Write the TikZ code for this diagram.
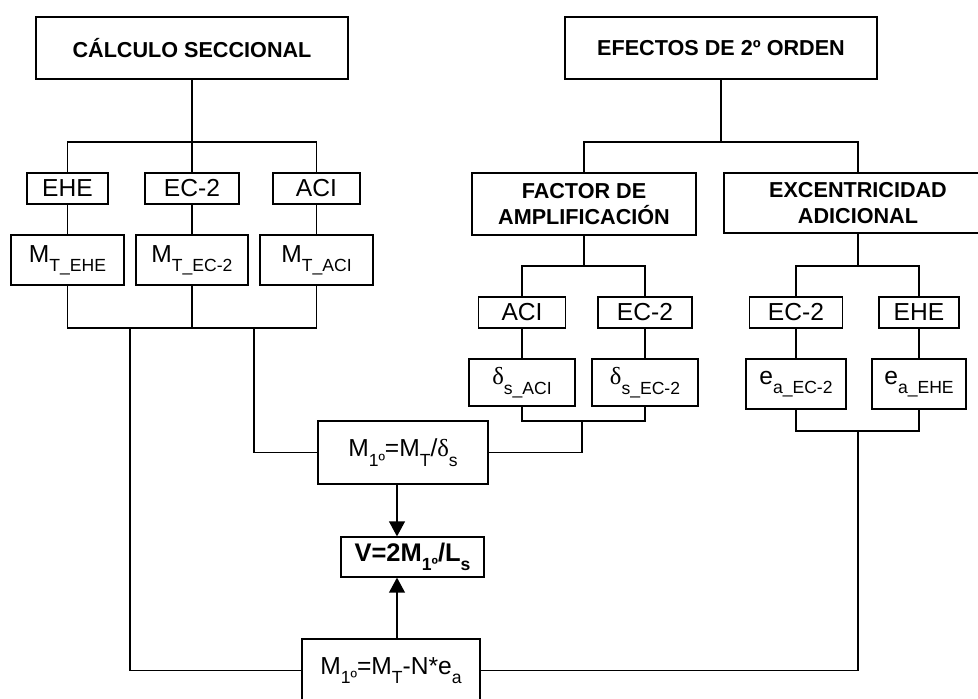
\documentclass[tikz,border=0pt]{standalone}
\usepackage{fontspec}
\setmainfont{Liberation Sans}
\newfontfamily\greekfont{Liberation Serif}
\usetikzlibrary{arrows.meta, positioning, calc}

% lowered subscript in the text font
\newcommand{\low}[1]{\raisebox{-0.38em}{\fontsize{10}{12}\selectfont #1}}
\newcommand{\dlt}{{\greekfont δ}}

\begin{document}
\begin{tikzpicture}[x=0.02cm, y=-0.02cm, line width=0.7pt,
    block/.style={draw, inner sep=0pt, minimum height=0.62cm, font=\fontsize{14}{16}\selectfont},
    head/.style={draw, inner sep=0pt, align=center, minimum height=1.24cm, font=\bfseries\fontsize{12.3}{15.3}\selectfont},
    arrow/.style={-{Triangle[length=8.5pt, width=9pt]}}
]
    \useasboundingbox (0,0) rectangle (978,698);

    % Headings
    \node[head, minimum width=6.24cm] (calc) at (192,48) {CÁLCULO SECCIONAL};
    \node[head, minimum width=6.24cm] (efec) at (721,48) {EFECTOS DE 2º ORDEN};

    % Sectional codes
    \node[block, minimum width=1.62cm] (ehe1) at (67.5,188.5) {EHE};
    \node[block, minimum width=1.88cm] (ec1) at (192,188.5) {EC-2};
    \node[block, minimum width=1.74cm] (aci1) at (316.5,188.5) {ACI};

    \node[block, minimum width=2.26cm, minimum height=1cm] (mehe) at (67.5,260) {M\low{T\_EHE}};
    \node[block, minimum width=2.24cm, minimum height=1cm] (mec) at (192,260) {M\low{T\_EC-2}};
    \node[block, minimum width=2.26cm, minimum height=1cm] (maci) at (316.5,260) {M\low{T\_ACI}};

    % Second order branches
    \node[head, minimum width=4.48cm] (factor) at (584,204) {FACTOR DE\\AMPLIFICACIÓN};
    \node[head, minimum width=5.36cm, minimum height=1.2cm] (excen) at (858,203) {EXCENTRICIDAD\\ADICIONAL};

    \node[block, minimum width=1.74cm] (aci2) at (522,312.5) {ACI};
    \node[block, minimum width=1.88cm] (ec2a) at (645,312.5) {EC-2};
    \node[block, minimum width=1.86cm] (ec2b) at (796,312.5) {EC-2};
    \node[block, minimum width=1.6cm] (ehe2) at (919,312.5) {EHE};

    \node[block, minimum width=2.12cm, minimum height=0.94cm] (dsaci) at (522,382.5) {\dlt\low{s\_ACI}};
    \node[block, minimum width=2.12cm, minimum height=0.94cm] (dsec) at (645,382.5) {\dlt\low{s\_EC-2}};
    \node[block, minimum width=2cm, minimum height=1cm] (eaec) at (796,384) {e\low{a\_EC-2}};
    \node[block, minimum width=1.88cm, minimum height=1cm] (eaehe) at (919,384) {e\low{a\_EHE}};

    % Results
    \node[block, minimum width=3.4cm, minimum height=1.26cm] (mds) at (403,452.5) {M\low{1º}=M\low{T}/\dlt\low{s}};
    \node[block, minimum width=2.86cm, minimum height=0.8cm, font=\bfseries\fontsize{14.5}{16}\selectfont] (vbox) at (412.5,557) {V=2M\low{1º}/L\low{s}};
    \node[block, minimum width=3.56cm, minimum height=1.26cm] (mne) at (391,670.5) {M\low{1º}=M\low{T}-N*e\low{a}};

    % Bus points
    \coordinate (bus1) at (192,142);
    \coordinate (bus2) at (192,328);
    \coordinate (tapA) at (130,328);
    \coordinate (tapB) at (254,328);
    \coordinate (bus3) at (721,142);
    \coordinate (bus4) at (584,266);
    \coordinate (bus5) at (582,421);
    \coordinate (bus6) at (858,431);
    \coordinate (bus7) at (858,266);
    \coordinate (axis) at (397,0);

    % Sectional tree
    \draw (calc) -- (bus1);
    \draw (ehe1.north) |- (bus1) -| (aci1.north);
    \draw (bus1) -- (ec1);
    \draw (ehe1) -- (mehe);
    \draw (ec1) -- (mec);
    \draw (aci1) -- (maci);
    \draw (mehe.south) |- (bus2) -| (maci.south);
    \draw (mec) -- (bus2);
    \draw (tapA) |- (mne.west);
    \draw (tapB) |- (mds.west);

    % Second order tree
    \draw (efec) -- (bus3);
    \draw (factor.north) |- (bus3) -| (excen.north);
    \draw (factor) -- (bus4);
    \draw (aci2.north) |- (bus4) -| (ec2a.north);
    \draw (excen) -- (bus7);
    \draw (ec2b.north) |- (bus7) -| (ehe2.north);
    \draw (aci2) -- (dsaci);
    \draw (ec2a) -- (dsec);
    \draw (ec2b) -- (eaec);
    \draw (ehe2) -- (eaehe);
    \draw (dsaci.south) |- (bus5) -| (dsec.south);
    \draw (bus5) |- (mds.east);
    \draw (eaec.south) |- (bus6) -| (eaehe.south);
    \draw (bus6) |- (mne.east);

    % Shear
    \draw[arrow] (mds.south -| axis) -- (vbox.north -| axis);
    \draw[arrow] (mne.north -| axis) -- (vbox.south -| axis);
\end{tikzpicture}
\end{document}
